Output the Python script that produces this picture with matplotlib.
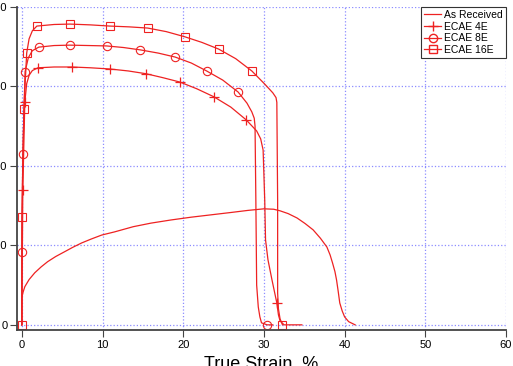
import matplotlib
matplotlib.use("Agg")
import matplotlib.pyplot as plt
from matplotlib.lines import Line2D

plt.rcParams['font.family'] = ['Liberation Sans', 'DejaVu Sans']

# true strain (%) / true stress (MPa)
recv_x = [0, 0, 0.15, 0.37, 0.9, 1.6, 2.4, 3.2, 4.2, 5.3, 6.3, 7.4, 8.6, 9.9, 11.5,
          13.8, 16.0, 18.5, 21.0, 23.5, 26.0, 28.0, 30.0, 31.2, 32.0, 33.0, 34.1,
          35.1, 36.1, 37.0, 37.8, 38.2, 38.5, 38.8, 39.0, 39.2, 39.4, 39.7, 40.0,
          40.5, 41.3]
recv_y = [0, 68, 82, 96, 114, 131, 146, 159, 172, 184, 195, 206, 216, 226, 234,
          247, 256, 264, 271, 277, 283, 288, 292, 291, 287, 280, 269,
          255, 239, 218, 196, 176, 156, 134, 113, 85, 55, 35, 20,
          8, 0]

e4_x = [0, 0.12, 0.37, 0.6, 0.9, 1.3, 2.0, 4.0, 6.2, 8.5, 10.9, 13.2, 15.4, 17.5,
        19.6, 21.7, 23.8, 25.9, 27.8, 29.1, 29.6, 29.9, 30.1, 30.2, 30.5, 31.0,
        31.6, 31.8, 32.0, 32.5, 34.7]
e4_y = [0, 340, 561, 607, 628, 640, 647, 649, 649, 647, 644, 639, 632, 622,
        611, 594, 574, 548, 516, 488, 468, 440, 314, 214, 164, 113,
        55, 25, 10, 0, 0]
e4_mx = [0.12, 0.37, 2.0, 6.2, 10.9, 15.4, 19.6, 23.8, 27.8, 31.6]
e4_my = [340, 561, 647, 649, 644, 632, 611, 574, 516, 55]

e8_x = [0, 0, 0.12, 0.4, 0.8, 1.3, 2.1, 4.0, 5.95, 8.3, 10.5, 12.6, 14.7, 16.9,
        19.0, 21.0, 22.9, 24.9, 26.8, 27.9, 28.5, 28.8, 28.9, 29.0, 29.1, 29.3,
        29.5, 29.7, 30.4, 31.1]
e8_y = [0, 184, 430, 637, 672, 690, 699, 703, 704, 703, 702, 698, 692, 684,
        674, 659, 639, 616, 586, 558, 536, 520, 500, 314, 100, 45,
        20, 5, 0, 0]
e8_mx = [0, 0.12, 0.4, 2.1, 5.95, 10.5, 14.7, 19.0, 22.9, 26.8, 30.4]
e8_my = [184, 430, 637, 699, 704, 702, 692, 674, 639, 586, 0]

e16_x = [0, 0, 0.25, 0.6, 0.9, 1.3, 1.86, 4.0, 5.95, 8.5, 10.9, 13.3, 15.6, 17.9,
         20.2, 22.3, 24.4, 26.5, 28.5, 30.1, 31.1, 31.5, 31.6, 31.7, 31.7, 31.8,
         32.0, 32.3]
e16_y = [0, 272, 543, 684, 720, 740, 752, 756, 757, 755, 752, 750, 747, 738,
         725, 711, 694, 670, 639, 606, 584, 572, 560, 314, 80, 40,
         15, 0]
e16_mx = [0, 0, 0.25, 0.6, 1.86, 5.95, 10.9, 15.6, 20.2, 24.4, 28.5, 32.3]
e16_my = [0, 272, 543, 684, 752, 757, 752, 747, 725, 694, 639, 0]

red = '#ee2222'

fig = plt.figure(figsize=(5.13, 3.66), dpi=100)
ax = fig.add_axes([17 / 513, 36 / 366, 489 / 513, 323 / 366])

ax.plot(recv_x, recv_y, color=red, lw=0.9)
ax.plot(e4_x, e4_y, color=red, lw=0.9)
ax.plot(e4_mx, e4_my, ls='none', marker='+', ms=7, mew=0.9, color=red)
ax.plot(e8_x, e8_y, color=red, lw=0.9)
ax.plot(e8_mx, e8_my, ls='none', marker='o', ms=6, mew=0.8, mfc='none', mec=red)
ax.plot(e16_x, e16_y, color=red, lw=0.9)
ax.plot(e16_mx, e16_my, ls='none', marker='s', ms=6, mew=0.8, mfc='none', mec=red)

ax.set_xlim(-0.6, 60)
ax.set_ylim(-13, 800)
ax.set_xticks(range(0, 61, 10))
ax.set_yticks(range(0, 801, 200))
ax.grid(True, color='#8c8cff', ls=':', lw=0.9)
ax.set_axisbelow(True)
for s in ['top', 'right']:
    ax.spines[s].set_visible(False)
for s in ['left', 'bottom']:
    ax.spines[s].set_color('#444444')
    ax.spines[s].set_linewidth(1.3)
ax.tick_params(labelsize=8, length=5, width=0.8, color='#444444', pad=2)

ax.set_xlabel('True Strain, %', fontsize=13)
ax.xaxis.set_label_coords(0.5, -0.078)

handles = [
    Line2D([], [], color=red, lw=0.9),
    Line2D([], [], color=red, lw=0.9, marker='+', ms=7),
    Line2D([], [], color=red, lw=0.9, marker='o', ms=6, mfc='none'),
    Line2D([], [], color=red, lw=0.9, marker='s', ms=6, mfc='none'),
]
leg = ax.legend(handles, ['As Received', 'ECAE 4E', 'ECAE 8E', 'ECAE 16E'],
                loc='upper right', borderaxespad=0, fontsize=7.5, fancybox=False,
                handlelength=1.6, handletextpad=0.3, labelspacing=0.15,
                borderpad=0.3, framealpha=1)
leg.get_frame().set_edgecolor('#333333')
leg.get_frame().set_linewidth(0.8)

fig.savefig('out.png', dpi=100)
